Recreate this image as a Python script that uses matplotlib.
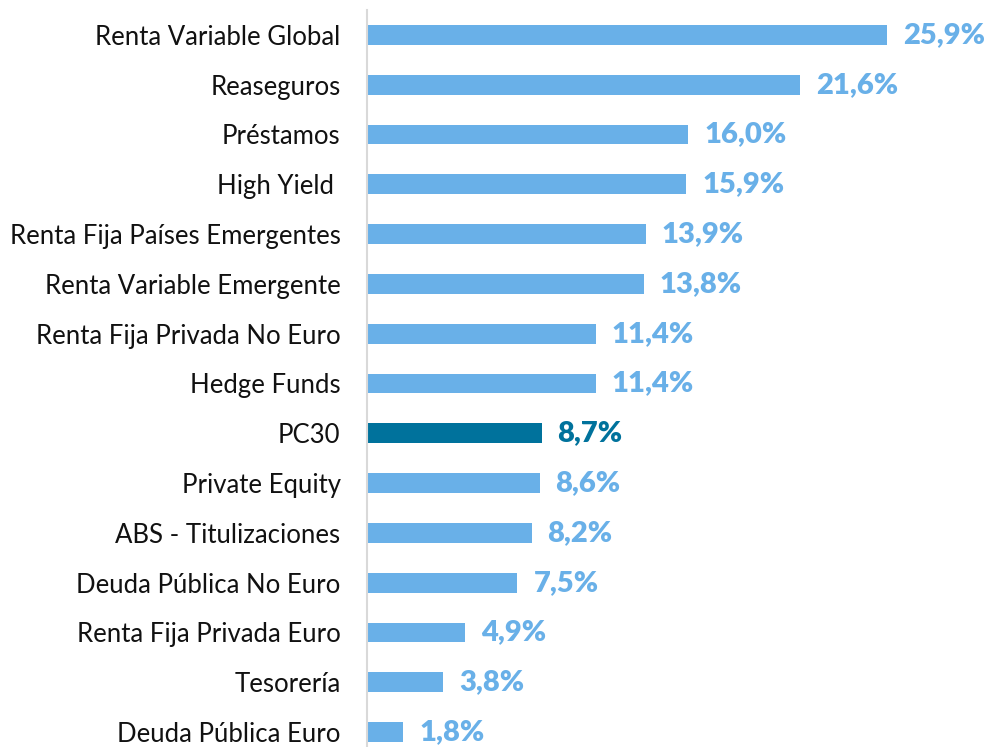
import matplotlib.pyplot as plt

categories = ["Renta Variable Global", "Reaseguros", "Préstamos", "High Yield ",
              "Renta Fija Países Emergentes", "Renta Variable Emergente",
              "Renta Fija Privada No Euro", "Hedge Funds", "PC30", "Private Equity",
              "ABS - Titulizaciones", "Deuda Pública No Euro", "Renta Fija Privada Euro",
              "Tesorería", "Deuda Pública Euro"]
values = [25.9, 21.6, 16.0, 15.9, 13.9, 13.8, 11.4, 11.4, 8.7, 8.6, 8.2, 7.5, 4.9, 3.8, 1.8]
highlight = "PC30"

light = "#69B0E8"
dark = "#00729C"

plt.rcParams['font.family'] = ['Lato', 'DejaVu Sans']

fig = plt.figure(figsize=(9.85, 7.47), dpi=100)
ax = fig.add_axes([367 / 985, 0, 618 / 985, 737 / 747])

colors = [dark if c == highlight else light for c in categories]
y = list(range(len(categories)))
ax.barh(y, values, height=0.4, color=colors)

for yi, v, c in zip(y, values, colors):
    ax.text(v + 0.8, yi, f"{v:.1f}%".replace(".", ","), va="center", ha="left",
            fontsize=21, fontweight="heavy", color=c)

ax.set_yticks(y)
ax.set_yticklabels(categories, fontsize=18.5, color="#111111")
ax.tick_params(axis="y", length=0, pad=19)
ax.set_xlim(0, 30.8)
ax.set_ylim(14.3, -0.5)
ax.set_xticks([])
for s in ["top", "right", "bottom"]:
    ax.spines[s].set_visible(False)
ax.spines["left"].set_color("#d9d9d9")
ax.spines["left"].set_linewidth(1.5)

fig.savefig("out.png", dpi=100)
